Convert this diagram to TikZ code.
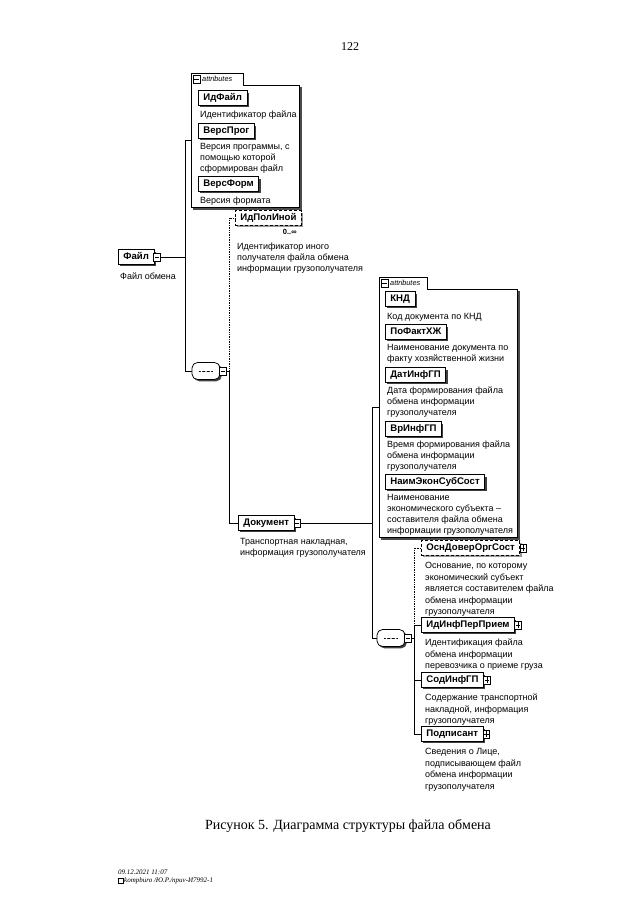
\documentclass[tikz,border=0pt]{standalone}
\usepackage{fontspec}
\setmainfont{Liberation Serif}
\newfontfamily\lsans{Liberation Sans}
\usetikzlibrary{shadows}
\begin{document}
\begin{tikzpicture}[x=1pt,y=-1pt,
  conn/.style={line width=0.7pt},
  optconn/.style={line width=0.7pt, densely dotted},
  elbase/.style={draw, line width=0.75pt, fill=white,
    font=\lsans\bfseries\fontsize{9.6}{10}\selectfont,
    inner xsep=5pt, inner ysep=0pt, minimum height=14.5pt,
    text height=6.9pt, text depth=1.7pt, anchor=west},
  el/.style={elbase, drop shadow={shadow xshift=1.8pt, shadow yshift=-1.8pt, fill=black!75, opacity=1}},
  optel/.style={elbase, densely dashed, drop shadow={shadow xshift=1.8pt, shadow yshift=-1.8pt, fill=black!40, opacity=1}},
  desc/.style={font=\lsans\fontsize{9}{11}\selectfont, align=left, anchor=north west,
    inner sep=0pt, execute at begin node={\rule{0pt}{7.2pt}}},
  descb/.style={desc, font=\lsans\fontsize{9}{11.5}\selectfont},
  icon/.style={draw, fill=white, line width=0.5pt, minimum width=6.5pt, minimum height=7.5pt, inner sep=0pt},
  minusic/.style={icon, path picture={\draw[line width=0.5pt]
      ([xshift=1.2pt]path picture bounding box.west) -- ([xshift=-1.2pt]path picture bounding box.east);}},
  plusic/.style={icon, path picture={\draw[line width=0.5pt]
      ([xshift=1.2pt]path picture bounding box.west) -- ([xshift=-1.2pt]path picture bounding box.east)
      ([yshift=-1.2pt]path picture bounding box.north) -- ([yshift=1.2pt]path picture bounding box.south);}},
  seqbox/.style={draw, fill=white, line width=0.75pt, rounded corners=5.5pt,
    minimum width=28pt, minimum height=17pt, inner sep=0pt,
    drop shadow={shadow xshift=1.8pt, shadow yshift=-1.8pt, fill=black!75, opacity=1},
    path picture={
      \draw[line width=0.6pt] ([xshift=-7pt]path picture bounding box.center) -- ([xshift=7pt]path picture bounding box.center);
      \fill ([xshift=-4.5pt]path picture bounding box.center) circle (1pt)
            (path picture bounding box.center) circle (1pt)
            ([xshift=4.5pt]path picture bounding box.center) circle (1pt);}},
  tabtxt/.style={font=\lsans\itshape\fontsize{7.3}{8}\selectfont, anchor=west, inner sep=0pt},
  boxline/.style={line width=0.75pt},
  boxshadow/.style={line width=1.5pt, black!70}
]
\useasboundingbox (0,0) rectangle (640,905);
\fill[white] (0,0) rectangle (640,905);

% page number
\node[font=\fontsize{12}{14}\selectfont] (pagenum) at (350,47) {122};

% ---------- attributes box 1 ----------
\node[draw=none, inner sep=0pt, minimum width=108pt, minimum height=134pt, anchor=north west] (attr1) at (191,73) {};
\draw[boxshadow] (301,87) -- (301,209) -- (193,209);
\draw[boxline, fill=white] (191,73) -- (243,73) -- (243,85) -- (299,85) -- (299,207) -- (191,207) -- cycle;
\node[minusic] (t1ic) at (196.5,79) {};
\node[tabtxt] (t1txt) at (202,79) {attributes};

\node[el] (idfajl) at (198,98) {ИдФайл};
\node[desc] (didfajl) at (200,110.1) {Идентификатор файла};
\node[el] (versprog) at (198,131) {ВерсПрог};
\node[desc] (dversprog) at (200,143.1) {Версия программы, с\\помощью которой\\сформирован файл};
\node[el] (versform) at (198,184) {ВерсФорм};
\node[desc] (dversform) at (200,196.1) {Версия формата};

% ---------- root ----------
\node[el] (fajl) at (118,257) {Файл};
\node[minusic] (fajlic) at ([xshift=2.5pt]fajl.east) {};
\node[desc] (dfajl) at (120,272.1) {Файл обмена};

% ---------- sequence 1 ----------
\node[seqbox] (seq1) at (206,371) {};
\node[minusic] (seq1ic) at ([xshift=2.5pt]seq1.east) {};

\node[optel] (idpol) at (235,218) {ИдПолИной};
\node[font=\lsans\bfseries\fontsize{7.5}{8}\selectfont, anchor=north east, inner sep=0pt] (idpolm) at ([xshift=-5pt,yshift=-3pt]idpol.south east) {0..∞};
\node[desc] (didpol) at (237,243.1) {Идентификатор иного\\получателя файла обмена\\информации грузополучателя};

\node[el] (dok) at (238,523) {Документ};
\node[minusic] (dokic) at ([xshift=2.5pt]dok.east) {};
\node[desc] (ddok) at (240,538.1) {Транспортная накладная,\\информация грузополучателя};

% ---------- attributes box 2 ----------
\node[draw=none, inner sep=0pt, minimum width=138pt, minimum height=260pt, anchor=north west] (attr2) at (379,277) {};
\draw[boxshadow] (519,291) -- (519,539) -- (381,539);
\draw[boxline, fill=white] (379,277) -- (427,277) -- (427,289) -- (517,289) -- (517,537) -- (379,537) -- cycle;
\node[minusic] (t2ic) at (384.5,283) {};
\node[tabtxt] (t2txt) at (390,283) {attributes};

\node[el] (knd) at (385,299) {КНД};
\node[desc] (dknd) at (387,312.1) {Код документа по КНД};
\node[el] (pofakt) at (385,332) {ПоФактХЖ};
\node[desc] (dpofakt) at (387,344.1) {Наименование документа по\\факту хозяйственной жизни};
\node[el] (datinf) at (385,375) {ДатИнфГП};
\node[desc] (ddatinf) at (387,387.1) {Дата формирования файла\\обмена информации\\грузополучателя};
\node[el] (vrinf) at (385,429) {ВрИнфГП};
\node[desc] (dvrinf) at (387,441.1) {Время формирования файла\\обмена информации\\грузополучателя};
\node[el] (naim) at (385,482) {НаимЭконСубСост};
\node[desc] (dnaim) at (387,494.1) {Наименование\\экономического субъекта –\\составителя файла обмена\\информации грузополучателя};

% ---------- sequence 2 ----------
\node[seqbox] (seq2) at (391,638) {};
\node[minusic] (seq2ic) at ([xshift=2.5pt]seq2.east) {};

\node[optel] (osn) at (421,548) {ОснДоверОргСост};
\node[plusic] (osnic) at ([xshift=3pt]osn.east) {};
\node[descb] (dosn) at (425,562.1) {Основание, по которому\\экономический субъект\\является составителем файла\\обмена информации\\грузополучателя};

\node[el] (idinf) at (421,625) {ИдИнфПерПрием};
\node[plusic] (idinfic) at ([xshift=3pt]idinf.east) {};
\node[descb] (didinf) at (425,639.1) {Идентификация файла\\обмена информации\\перевозчика о приеме груза};

\node[el] (sod) at (421,680) {СодИнфГП};
\node[plusic] (sodic) at ([xshift=3pt]sod.east) {};
\node[descb] (dsod) at (425,694.1) {Содержание транспортной\\накладной, информация\\грузополучателя};

\node[el] (podp) at (421,734) {Подписант};
\node[plusic] (podpic) at ([xshift=3pt]podp.east) {};
\node[descb] (dpodp) at (425,748.1) {Сведения о Лице,\\подписывающем файл\\обмена информации\\грузополучателя};

% ---------- connectors ----------
\coordinate (b1) at (185,0);
\coordinate (b2) at (229,0);
\coordinate (b3) at (372,0);
\coordinate (b4) at (414,0);

\draw[conn] (fajlic.east) -- (b1 |- fajlic.east);
\draw[conn] (attr1.west) -| (b1 |- seq1.west) -- (seq1.west);
\draw[optconn] (seq1ic.east) -- (b2 |- seq1ic.east) |- (idpol.west);
\draw[conn] (seq1ic.east) -- (b2 |- seq1ic.east) |- (dok.west);
\draw[conn] (dokic.east) -- (b3 |- dokic.east);
\draw[conn] (attr2.west) -| (b3 |- seq2.west) -- (seq2.west);
\draw[optconn] (seq2ic.east) -- (b4 |- seq2ic.east) |- (osn.west);
\draw[conn] (seq2ic.east) -- (b4 |- seq2ic.east) |- (idinf.west);
\draw[conn] (b4 |- seq2ic.east) |- (sod.west);
\draw[conn] (b4 |- seq2ic.east) |- (podp.west);

% ---------- caption and footer ----------
\node[font=\fontsize{14}{16}\selectfont] (caption) at (348,826) {Рисунок 5. Диаграмма структуры файла обмена};
\node[font=\itshape\fontsize{7}{8}\selectfont, anchor=west, inner sep=0pt] (fdate) at (118,872) {09.12.2021 11:07};
\node[draw, line width=0.4pt, minimum size=4.5pt, inner sep=0pt] (fsq) at (120.5,880.5) {};
\node[font=\itshape\fontsize{7}{8}\selectfont, anchor=west, inner sep=0pt] (fsrc) at ([xshift=1pt]fsq.east) {kompburo /Ю.Р./npuv-И7992-1};
\end{tikzpicture}
\end{document}
